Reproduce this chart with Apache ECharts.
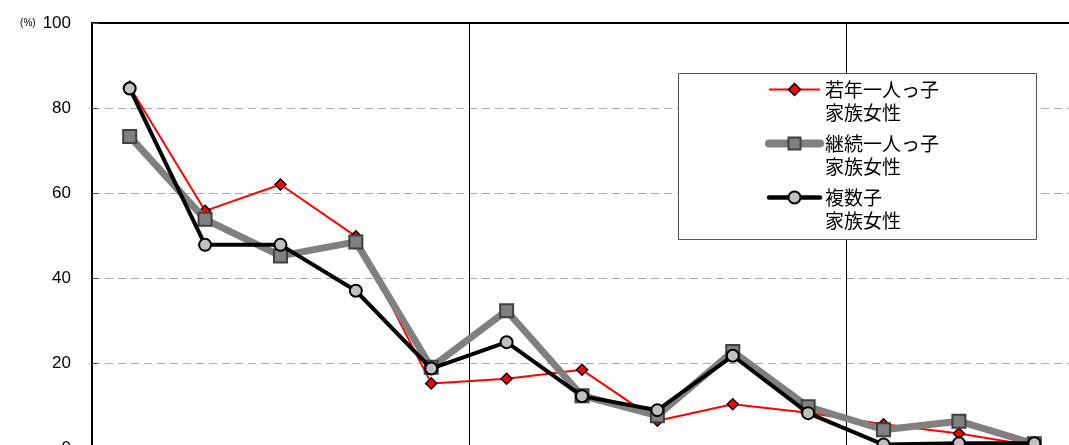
<!DOCTYPE html>
<html>
<head>
<meta charset="utf-8">
<script src="https://cdn.jsdelivr.net/npm/echarts@6/dist/echarts.min.js"></script>
<style>
  html, body { margin: 0; padding: 0; background: #fff; }
  #chart { width: 1069px; height: 445px; }
</style>
</head>
<body>
<div id="chart"></div>
<script>
// Categories along the horizontal axis (three groups: 5 / 5 / 3)
const categories = ['1', '2', '3', '4', '5', '6', '7', '8', '9', '10', '11', '12', '13'];

// Shares in percent for each family type
const youngOnlyChild = [85.0, 55.8, 62.0, 49.8, 15.2, 16.3, 18.4, 6.4, 10.3, 8.3, 5.6, 3.4, 0.5];
const continuingOnlyChild = [73.3, 53.8, 45.2, 48.5, 19.0, 32.3, 12.3, 7.6, 22.7, 9.7, 4.3, 6.3, 1.0];
const multipleChildren = [84.6, 47.8, 47.8, 37.0, 18.7, 24.9, 12.2, 8.9, 21.7, 8.2, 0.8, 1.1, 1.1];

const seriesNames = ['若年一人っ子\n家族女性', '継続一人っ子\n家族女性', '複数子\n家族女性'];
const yTicks = [0, 20, 40, 60, 80, 100];
const groupBreaks = [5, 10];

const chart = echarts.init(document.getElementById('chart'), null, { renderer: 'canvas' });

const option = {
  animation: false,
  backgroundColor: '#fff',
  textStyle: { fontFamily: '"Noto Sans CJK JP", "Liberation Sans", sans-serif' },
  grid: {
    left: 92, top: 23, width: 980, height: 425,
    outerBoundsMode: 'none',
    containLabel: false,
    show: false
  },
  xAxis: [
    {
      type: 'category',
      data: categories,
      boundaryGap: true,
      position: 'bottom',
      axisLine: { show: true, lineStyle: { color: '#000', width: 2 } },
      axisTick: { show: false },
      axisLabel: { show: false },
      splitLine: {
        show: true,
        interval: (idx) => groupBreaks.indexOf(idx) >= 0,
        lineStyle: { color: '#000', width: 1, type: 'solid' }
      }
    },
    {
      // top frame line of the plot area
      type: 'category',
      data: categories,
      position: 'top',
      axisLine: { show: true, lineStyle: { color: '#000', width: 2 } },
      axisTick: { show: false },
      axisLabel: { show: false },
      splitLine: { show: false }
    }
  ],
  yAxis: {
    type: 'value',
    min: yTicks[0], max: yTicks[yTicks.length - 1], interval: 20,
    axisLine: { show: true, lineStyle: { color: '#000', width: 2 } },
    axisTick: { show: true, inside: true, length: 6, lineStyle: { color: '#555', width: 1 } },
    axisLabel: {
      margin: 21,
      fontSize: 17,
      color: '#000',
      fontFamily: '"Liberation Sans", Arial, sans-serif',
      formatter: (v) => v === 100 ? '{u|(%)}{v|' + v + '}' : String(v),
      rich: {
        u: { fontSize: 10, color: '#000', padding: [0, 7, 0, 0], fontFamily: '"Liberation Sans", Arial, sans-serif' },
        v: { fontSize: 17, color: '#000', fontFamily: '"Liberation Sans", Arial, sans-serif' }
      }
    },
    splitLine: {
      show: true,
      lineStyle: { color: '#aaa', width: 1, type: [8, 5] }
    }
  },
  graphic: [{
    type: 'rect',
    z: 3,
    shape: { x: 678.5, y: 73.5, width: 358, height: 166 },
    style: { fill: '#fff', stroke: '#555', lineWidth: 1 }
  }],
  legend: {
    orient: 'vertical',
    left: 765,
    top: 55,
    padding: 0,
    itemGap: -15,
    itemWidth: 51,
    itemHeight: 15,
    z: 5,
    data: [
      { name: seriesNames[0], lineStyle: { width: 2, color: '#ff0000' },
        itemStyle: { color: '#ff0000', borderColor: '#000', borderWidth: 1.5 } },
      { name: seriesNames[1], lineStyle: { width: 8, color: '#808080', cap: 'round' },
        itemStyle: { color: '#808080', borderColor: '#404040', borderWidth: 2 } },
      { name: seriesNames[2], lineStyle: { width: 4.5, color: '#000', cap: 'round' },
        itemStyle: { color: '#c0c0c0', borderColor: '#000', borderWidth: 2 } }
    ],
    formatter: (name) => ' \n' + name,
    textStyle: {
      fontSize: 19,
      lineHeight: 23,
      color: '#000',
      fontFamily: '"Noto Sans CJK JP", sans-serif'
    }
  },
  series: [
    {
      name: seriesNames[0],
      type: 'line',
      data: youngOnlyChild,
      symbol: 'diamond',
      symbolSize: 11,
      lineStyle: { color: '#ff0000', width: 2 },
      itemStyle: { color: '#ff0000', borderColor: '#000', borderWidth: 1.5 },
      z: 2
    },
    {
      name: seriesNames[1],
      type: 'line',
      data: continuingOnlyChild,
      symbol: 'rect',
      symbolSize: 13,
      lineStyle: { color: '#808080', width: 7, cap: 'round', join: 'round' },
      itemStyle: { color: '#808080', borderColor: '#404040', borderWidth: 2 },
      z: 3
    },
    {
      name: seriesNames[2],
      type: 'line',
      data: multipleChildren,
      symbol: 'circle',
      symbolSize: 12,
      lineStyle: { color: '#000', width: 4, join: 'round' },
      itemStyle: { color: '#c0c0c0', borderColor: '#000', borderWidth: 2 },
      z: 4
    }
  ]
};

chart.setOption(option);
</script>
</body>
</html>
